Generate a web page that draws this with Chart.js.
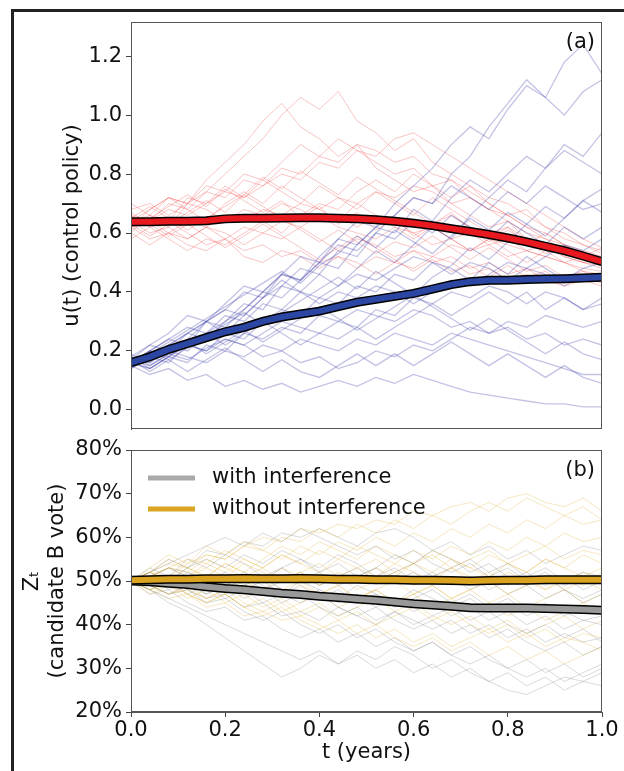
<!DOCTYPE html>
<html>
<head>
<meta charset="utf-8">
<script src="https://cdn.jsdelivr.net/npm/chart.js@4.4.1/dist/chart.umd.min.js"></script>
<style>
  html, body { margin: 0; padding: 0; background: #fff; overflow: hidden; }
  #marco { position: absolute; left: 11px; top: 9px; width: 620px; height: 770px; border-left: 3px solid #222; border-top: 3px solid #222; }
  #cajaA { position: absolute; left: 0; top: 0; width: 624px; height: 449px; }
  #cajaB { position: absolute; left: 0; top: 430px; width: 624px; height: 341px; }
</style>
</head>
<body>
<div id="marco"></div>
<div id="cajaA"><canvas id="graficoControl" width="624" height="449"></canvas></div>
<div id="cajaB"><canvas id="graficoVoto" width="624" height="341"></canvas></div>
<script>
// grilla de tiempo (años)
const tGrid = [0, 0.04, 0.08, 0.12, 0.16, 0.2, 0.24, 0.28, 0.32, 0.36, 0.4, 0.44, 0.48, 0.52, 0.56, 0.6, 0.64, 0.68, 0.72, 0.76, 0.8, 0.84, 0.88, 0.92, 0.96, 1.0];

// panel (a): trayectorias de la politica de control
const caminosRojos = [
  [0.64,0.66,0.62,0.70,0.74,0.80,0.86,0.92,1.00,1.06,1.02,1.08,0.98,0.94,0.88,0.92,0.84,0.80,0.76,0.72,0.70,0.66,0.62,0.60,0.56,0.54],
  [0.62,0.68,0.72,0.70,0.78,0.84,0.90,0.98,1.04,0.96,0.92,0.86,0.90,0.82,0.78,0.74,0.76,0.70,0.66,0.62,0.64,0.58,0.55,0.52,0.50,0.48],
  [0.66,0.64,0.70,0.68,0.74,0.72,0.78,0.76,0.82,0.80,0.86,0.84,0.90,0.88,0.84,0.86,0.80,0.78,0.74,0.70,0.66,0.62,0.60,0.56,0.54,0.52],
  [0.60,0.66,0.64,0.72,0.70,0.76,0.72,0.78,0.74,0.70,0.76,0.72,0.68,0.74,0.70,0.66,0.72,0.68,0.64,0.60,0.62,0.58,0.56,0.54,0.50,0.51],
  [0.62,0.58,0.60,0.56,0.54,0.58,0.52,0.50,0.54,0.52,0.48,0.52,0.50,0.46,0.50,0.48,0.52,0.50,0.46,0.48,0.44,0.46,0.44,0.42,0.44,0.42],
  [0.64,0.60,0.62,0.58,0.62,0.60,0.56,0.60,0.58,0.62,0.58,0.54,0.58,0.56,0.52,0.54,0.50,0.52,0.48,0.50,0.46,0.48,0.44,0.46,0.44,0.45],
  [0.68,0.70,0.66,0.70,0.68,0.64,0.68,0.66,0.70,0.68,0.64,0.66,0.62,0.66,0.64,0.60,0.62,0.58,0.60,0.56,0.58,0.54,0.56,0.52,0.50,0.49],
  [0.62,0.64,0.68,0.66,0.70,0.74,0.72,0.76,0.80,0.78,0.84,0.82,0.88,0.86,0.92,0.94,0.90,0.86,0.82,0.78,0.74,0.70,0.66,0.62,0.58,0.55],
  [0.60,0.56,0.60,0.58,0.62,0.58,0.62,0.60,0.64,0.62,0.66,0.62,0.60,0.58,0.62,0.60,0.56,0.58,0.54,0.56,0.52,0.54,0.52,0.50,0.48,0.47],
  [0.66,0.62,0.64,0.60,0.56,0.58,0.54,0.56,0.52,0.54,0.50,0.52,0.48,0.52,0.50,0.54,0.52,0.56,0.54,0.58,0.56,0.54,0.52,0.50,0.52,0.50],
  [0.64,0.68,0.72,0.70,0.76,0.74,0.80,0.78,0.84,0.90,0.86,0.92,0.88,0.84,0.80,0.82,0.76,0.78,0.72,0.68,0.64,0.60,0.58,0.54,0.52,0.50],
  [0.62,0.64,0.60,0.64,0.62,0.66,0.64,0.68,0.66,0.70,0.68,0.72,0.70,0.74,0.72,0.76,0.74,0.70,0.72,0.68,0.66,0.62,0.58,0.56,0.53,0.52],
  [0.70,0.66,0.72,0.68,0.64,0.70,0.74,0.70,0.76,0.72,0.68,0.64,0.70,0.66,0.62,0.58,0.62,0.58,0.54,0.58,0.54,0.50,0.54,0.50,0.47,0.46],
  [0.58,0.62,0.58,0.54,0.58,0.56,0.60,0.64,0.60,0.66,0.70,0.68,0.74,0.78,0.74,0.80,0.76,0.72,0.76,0.70,0.66,0.68,0.62,0.58,0.56,0.53],
  [0.65,0.69,0.65,0.61,0.65,0.69,0.73,0.69,0.65,0.61,0.57,0.61,0.57,0.53,0.57,0.55,0.59,0.55,0.51,0.55,0.51,0.47,0.49,0.45,0.47,0.44],
  [0.63,0.59,0.63,0.67,0.71,0.67,0.73,0.79,0.75,0.81,0.77,0.73,0.79,0.75,0.71,0.67,0.63,0.67,0.61,0.57,0.61,0.57,0.53,0.55,0.51,0.49],
  [0.61,0.65,0.69,0.73,0.69,0.75,0.71,0.67,0.71,0.65,0.69,0.63,0.67,0.61,0.65,0.59,0.63,0.66,0.62,0.58,0.62,0.56,0.60,0.56,0.52,0.55],
  [0.67,0.63,0.59,0.63,0.59,0.55,0.59,0.63,0.59,0.55,0.51,0.55,0.59,0.55,0.51,0.47,0.51,0.47,0.49,0.45,0.49,0.45,0.47,0.43,0.45,0.43]
];
const caminosAzules = [
  [0.16,0.20,0.24,0.22,0.30,0.34,0.40,0.38,0.46,0.52,0.50,0.58,0.64,0.62,0.70,0.76,0.82,0.90,0.96,0.92,1.02,1.10,1.06,1.18,1.24,1.14],
  [0.18,0.16,0.22,0.26,0.24,0.30,0.36,0.34,0.42,0.48,0.46,0.54,0.52,0.60,0.66,0.72,0.70,0.80,0.86,0.96,1.04,1.12,1.06,1.00,1.08,1.12],
  [0.15,0.20,0.18,0.24,0.30,0.28,0.34,0.40,0.38,0.44,0.50,0.48,0.56,0.62,0.60,0.68,0.64,0.72,0.78,0.74,0.80,0.86,0.82,0.88,0.84,0.80],
  [0.17,0.22,0.26,0.32,0.30,0.36,0.42,0.40,0.46,0.44,0.50,0.56,0.54,0.60,0.58,0.64,0.60,0.66,0.62,0.58,0.64,0.60,0.56,0.62,0.58,0.62],
  [0.14,0.18,0.16,0.22,0.20,0.26,0.24,0.30,0.34,0.32,0.38,0.36,0.42,0.40,0.46,0.44,0.50,0.48,0.44,0.50,0.46,0.52,0.48,0.44,0.48,0.50],
  [0.16,0.14,0.18,0.16,0.22,0.20,0.26,0.24,0.28,0.26,0.32,0.30,0.28,0.34,0.32,0.38,0.36,0.40,0.38,0.42,0.40,0.36,0.40,0.38,0.34,0.36],
  [0.15,0.12,0.14,0.10,0.12,0.08,0.10,0.07,0.09,0.06,0.08,0.10,0.08,0.11,0.09,0.12,0.10,0.08,0.06,0.05,0.04,0.03,0.02,0.02,0.01,0.01],
  [0.18,0.16,0.20,0.18,0.16,0.20,0.18,0.22,0.20,0.24,0.22,0.20,0.24,0.22,0.26,0.24,0.22,0.26,0.24,0.22,0.20,0.18,0.16,0.14,0.12,0.12],
  [0.16,0.20,0.24,0.28,0.26,0.32,0.30,0.36,0.34,0.40,0.38,0.42,0.46,0.44,0.48,0.52,0.50,0.46,0.50,0.48,0.44,0.48,0.46,0.42,0.46,0.44],
  [0.17,0.15,0.19,0.17,0.21,0.24,0.22,0.26,0.30,0.28,0.26,0.30,0.34,0.32,0.30,0.34,0.32,0.28,0.30,0.26,0.28,0.24,0.26,0.22,0.24,0.22],
  [0.15,0.18,0.22,0.20,0.26,0.30,0.34,0.40,0.46,0.44,0.52,0.58,0.56,0.62,0.66,0.72,0.70,0.76,0.72,0.68,0.74,0.70,0.76,0.72,0.68,0.70],
  [0.16,0.14,0.18,0.22,0.20,0.24,0.22,0.18,0.20,0.16,0.18,0.14,0.16,0.20,0.18,0.22,0.20,0.24,0.28,0.26,0.30,0.28,0.32,0.30,0.28,0.30],
  [0.18,0.22,0.20,0.26,0.30,0.34,0.32,0.38,0.42,0.40,0.36,0.40,0.38,0.42,0.40,0.36,0.40,0.44,0.42,0.46,0.50,0.48,0.52,0.56,0.54,0.58],
  [0.19,0.15,0.19,0.23,0.19,0.23,0.27,0.23,0.27,0.31,0.35,0.31,0.27,0.31,0.35,0.39,0.35,0.31,0.27,0.31,0.27,0.23,0.19,0.23,0.19,0.17],
  [0.14,0.18,0.22,0.26,0.30,0.26,0.32,0.38,0.44,0.40,0.46,0.42,0.48,0.54,0.50,0.56,0.62,0.58,0.66,0.72,0.78,0.74,0.82,0.90,0.86,0.94],
  [0.17,0.13,0.17,0.13,0.17,0.21,0.17,0.13,0.17,0.13,0.11,0.15,0.19,0.15,0.19,0.15,0.19,0.23,0.19,0.15,0.19,0.15,0.11,0.15,0.11,0.09],
  [0.16,0.20,0.17,0.21,0.25,0.29,0.33,0.29,0.33,0.37,0.41,0.45,0.41,0.47,0.43,0.39,0.45,0.49,0.55,0.51,0.57,0.63,0.59,0.65,0.71,0.67],
  [0.18,0.14,0.18,0.22,0.26,0.22,0.26,0.30,0.26,0.22,0.26,0.24,0.28,0.24,0.28,0.32,0.36,0.32,0.36,0.40,0.36,0.40,0.34,0.38,0.34,0.38],
  [0.15,0.19,0.23,0.27,0.31,0.35,0.39,0.43,0.47,0.43,0.49,0.53,0.59,0.55,0.61,0.57,0.53,0.59,0.65,0.61,0.67,0.63,0.69,0.65,0.71,0.75]
];
const mediaRoja = [0.638,0.638,0.640,0.640,0.642,0.648,0.650,0.650,0.651,0.652,0.652,0.650,0.648,0.645,0.640,0.633,0.625,0.615,0.605,0.595,0.583,0.570,0.555,0.540,0.522,0.503];
const mediaAzul = [0.160,0.180,0.205,0.225,0.245,0.265,0.280,0.300,0.315,0.325,0.335,0.350,0.365,0.375,0.385,0.395,0.410,0.425,0.435,0.440,0.440,0.442,0.444,0.445,0.447,0.450];

// panel (b): trayectorias del voto (%)
const caminosGrises = [
  [50,52,55,53,57,56,59,58,61,60,62,60,58,61,62,60,57,59,56,58,55,57,54,56,58,57],
  [50,48,45,43,40,37,34,31,28,30,33,31,34,32,35,33,30,32,29,27,25,24,26,28,27,29],
  [50,49,51,48,46,47,44,45,42,43,41,44,42,40,43,41,39,41,38,40,37,39,36,38,36,37],
  [50,51,49,52,50,48,51,49,47,50,48,46,49,47,45,48,46,44,46,43,45,42,44,43,41,42],
  [50,53,51,55,53,56,54,51,53,50,52,49,51,53,50,52,49,51,48,50,47,49,46,48,45,47],
  [50,47,48,45,43,44,41,42,39,37,39,36,38,35,37,34,36,33,35,32,30,32,29,31,28,30],
  [50,51,53,52,50,52,49,51,48,46,48,45,47,44,46,43,45,42,44,41,43,40,42,39,41,40],
  [50,48,50,47,49,46,48,45,47,49,46,48,45,47,44,46,48,45,47,44,46,43,45,42,44,43],
  [50,52,50,53,55,53,56,54,57,55,53,56,54,51,53,50,52,49,51,48,50,52,49,51,48,50],
  [50,49,47,48,45,46,43,41,43,40,38,40,37,39,36,34,36,33,31,33,30,28,30,27,29,31],
  [50,51,48,50,47,49,51,48,50,52,49,51,53,50,52,54,51,53,55,52,54,51,53,50,52,51],
  [50,49,51,49,47,49,46,48,45,47,44,42,44,41,43,40,42,44,41,43,40,38,40,37,39,36],
  [50,52,54,56,58,60,58,61,59,62,60,58,56,58,55,57,54,52,54,51,53,50,52,49,51,50],
  [50,48,46,44,42,40,38,36,34,32,34,31,33,30,32,29,31,28,30,27,29,26,28,25,27,26],
  [50,51,53,51,49,51,48,50,47,45,47,44,42,44,41,39,41,38,40,37,39,36,34,36,33,35],
  [50,49,47,49,51,49,52,50,53,55,52,54,51,53,56,54,57,55,52,54,51,49,51,48,46,48]
];
const caminosNaranjas = [
  [50,52,54,53,56,55,58,60,59,62,61,63,62,64,63,66,65,67,68,66,69,70,68,67,69,66],
  [50,48,46,47,44,45,42,43,41,42,40,38,40,37,39,36,38,35,37,39,36,38,35,37,36,34],
  [50,51,53,51,54,52,55,53,56,54,57,55,58,56,54,57,55,58,56,59,57,60,58,61,59,60],
  [50,49,51,48,50,47,49,51,48,50,47,49,46,48,50,47,49,46,48,45,47,44,46,48,45,47],
  [50,52,50,53,51,54,52,50,53,51,49,52,50,53,51,54,52,55,53,51,54,52,55,53,56,54],
  [50,47,49,46,48,45,47,44,46,43,45,42,44,46,43,45,42,40,42,39,41,38,40,42,39,41],
  [50,53,56,54,58,56,59,57,55,58,56,59,57,60,58,61,59,62,60,63,61,64,62,65,63,64],
  [50,49,47,49,46,48,45,43,45,42,44,41,43,40,42,44,41,43,40,38,40,37,39,36,38,37],
  [50,51,49,51,53,51,54,52,50,52,49,51,48,50,52,49,51,53,50,52,49,51,48,50,52,50],
  [50,52,55,53,51,54,52,55,58,56,59,57,55,58,56,54,57,55,53,56,54,52,55,53,51,53],
  [50,48,50,47,45,47,44,46,43,45,47,44,46,48,45,47,44,46,43,45,42,44,41,43,45,42],
  [50,51,53,55,54,57,55,53,56,54,52,55,53,51,54,52,50,53,51,49,52,50,48,51,49,52],
  [50,52,51,54,56,55,58,57,60,59,62,60,63,61,64,62,65,63,66,68,66,69,67,65,67,64],
  [50,48,49,47,45,47,44,42,44,41,39,41,38,40,37,35,37,34,36,33,35,32,34,31,33,35],
  [50,51,53,52,55,53,51,53,50,52,54,51,53,55,52,54,56,53,55,57,54,56,58,55,57,56],
  [50,49,47,48,46,48,50,48,51,49,47,49,46,48,45,47,49,46,48,50,47,49,51,48,50,48]
];
const mediaGris = [50,49.8,49.5,49.2,48.7,48.3,48.0,47.6,47.2,46.9,46.5,46.2,45.9,45.6,45.2,44.8,44.5,44.2,43.9,43.8,43.8,43.8,43.7,43.6,43.5,43.3];
const mediaNaranja = [50.2,50.3,50.4,50.4,50.5,50.5,50.6,50.5,50.5,50.6,50.5,50.4,50.4,50.3,50.3,50.2,50.2,50.1,50.0,50.1,50.2,50.2,50.3,50.3,50.3,50.3];

// ticks y textos
const ticksX = [0, 0.2, 0.4, 0.6, 0.8, 1.0];
const ticksControl = [0, 0.2, 0.4, 0.6, 0.8, 1.0, 1.2];
const ticksVoto = [20, 30, 40, 50, 60, 70, 80];
const leyendaTextos = ['with interference', 'without interference'];
const leyendaColores = ['#a9a9a9', '#daa520'];

Chart.defaults.font.family = '"DejaVu Sans", sans-serif';
Chart.defaults.font.size = 21;
Chart.defaults.color = '#111';
Chart.defaults.animation = false;

function Puntos(valores) {
  return valores.map((v, i) => ({ x: tGrid[i], y: v }));
}

function Camino(valores, color, ancho) {
  return { data: Puntos(valores), borderColor: color, borderWidth: ancho, pointRadius: 0, tension: 0 };
}

// linea media con borde negro: se dibuja dos veces
function Media(valores, color) {
  return [
    { data: Puntos(valores), borderColor: '#000', borderWidth: 9, pointRadius: 0, tension: 0 },
    { data: Puntos(valores), borderColor: color, borderWidth: 6, pointRadius: 0, tension: 0 }
  ];
}

// marco del area del grafico y etiqueta (a)/(b)
const marcoPanel = {
  id: 'marcoPanel',
  afterDraw(chart, args, opts) {
    const ctx = chart.ctx;
    const a = chart.chartArea;
    ctx.save();
    ctx.strokeStyle = '#555';
    ctx.lineWidth = 1;
    ctx.strokeRect(a.left + 0.5, a.top + 0.5, a.right - a.left - 1, a.bottom - a.top - 1);
    ctx.fillStyle = '#111';
    ctx.font = '21px "DejaVu Sans"';
    ctx.textAlign = 'right';
    ctx.textBaseline = 'middle';
    ctx.fillText(opts.texto, a.right - 7, a.top + 21);
    ctx.restore();
  }
};

const leyendaManual = {
  id: 'leyendaManual',
  afterDatasetsDraw(chart, args, opts) {
    if (!opts.mostrar) return;
    const ctx = chart.ctx;
    const a = chart.chartArea;
    ctx.save();
    ctx.font = '21px "DejaVu Sans"';
    ctx.textBaseline = 'middle';
    leyendaTextos.forEach((texto, i) => {
      let y = a.top + 28 + i * 31;
      ctx.strokeStyle = leyendaColores[i];
      ctx.lineWidth = 5;
      ctx.beginPath();
      ctx.moveTo(a.left + 17, y);
      ctx.lineTo(a.left + 64, y);
      ctx.stroke();
      ctx.fillStyle = '#111';
      ctx.fillText(texto, a.left + 81, y);
    });
    ctx.restore();
  }
};

function EjeY(ticks, min, max, formato, titulo, padTitulo) {
  return {
    type: 'linear', min: min, max: max,
    afterBuildTicks: s => { s.ticks = ticks.map(v => ({ value: v })); },
    afterFit: s => { s.width = 131; },
    ticks: { callback: formato, padding: 4, color: '#111' },
    grid: { drawOnChartArea: false, tickLength: 5, color: '#444' },
    border: { display: true, color: '#555' },
    title: { display: true, text: titulo, padding: { top: padTitulo, bottom: 0 }, color: '#111' }
  };
}

function GraficoControl() {
  let datasets = [];
  caminosRojos.forEach(c => datasets.push(Camino(c, 'rgba(240,75,75,0.33)', 1)));
  caminosAzules.forEach(c => datasets.push(Camino(c, 'rgba(55,55,170,0.3)', 1.3)));
  datasets = datasets.concat(Media(mediaRoja, '#e8191e'), Media(mediaAzul, '#2c46a4'));
  // Chart.js pinta el primer dataset encima: se invierte el orden
  datasets.reverse();

  new Chart(document.getElementById('graficoControl'), {
    type: 'line',
    data: { datasets: datasets },
    plugins: [marcoPanel],
    options: {
      responsive: false,
      layout: { padding: { left: 0, right: 22, top: 22, bottom: 0 } },
      plugins: { legend: { display: false }, tooltip: { enabled: false }, marcoPanel: { texto: '(a)' } },
      scales: {
        x: {
          type: 'linear', min: 0, max: 1,
          afterFit: s => { s.height = 20; },
          ticks: { display: false },
          grid: { display: false },
          border: { display: false }
        },
        y: EjeY(ticksControl, -0.065, 1.316, v => v.toFixed(1), 'u(t) (control policy)', 60)
      }
    }
  });
}

function GraficoVoto() {
  let datasets = [];
  for (let i = 0; i < caminosGrises.length; i++) {
    datasets.push(Camino(caminosGrises[i], 'rgba(140,140,140,0.33)', 1));
    datasets.push(Camino(caminosNaranjas[i], 'rgba(225,175,50,0.3)', 1));
  }
  datasets = datasets.concat(Media(mediaGris, '#999999'), Media(mediaNaranja, '#d9a21f'));
  datasets.reverse();

  new Chart(document.getElementById('graficoVoto'), {
    type: 'line',
    data: { datasets: datasets },
    plugins: [marcoPanel, leyendaManual],
    options: {
      responsive: false,
      layout: { padding: { left: 0, right: 22, top: 20, bottom: 0 } },
      plugins: {
        legend: { display: false }, tooltip: { enabled: false },
        marcoPanel: { texto: '(b)' }, leyendaManual: { mostrar: true }
      },
      scales: {
        x: {
          type: 'linear', min: 0, max: 1,
          afterBuildTicks: s => { s.ticks = ticksX.map(v => ({ value: v })); },
          afterFit: s => { s.height = 59; },
          ticks: { callback: v => v.toFixed(1), padding: 1, color: '#111', maxRotation: 0 },
          grid: { drawOnChartArea: false, tickLength: 5, color: '#444' },
          border: { display: true, color: '#555' },
          title: { display: true, text: 't (years)', padding: { top: 0, bottom: 6 }, color: '#111' }
        },
        y: EjeY(ticksVoto, 20, 80, v => v + '%', ['Zₜ', '(candidate B vote)'], 20)
      }
    }
  });
}

GraficoControl();
GraficoVoto();
</script>
</body>
</html>
